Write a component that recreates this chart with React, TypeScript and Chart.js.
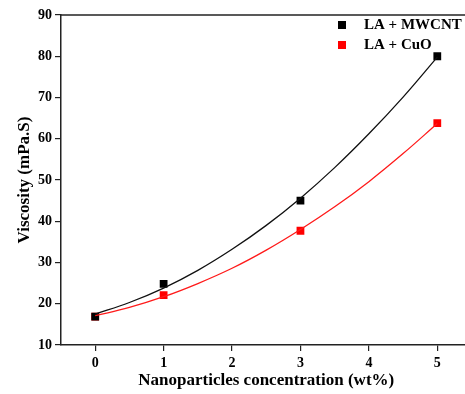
import React, { useEffect, useRef } from "react";
import { Chart, registerables } from "chart.js";

Chart.register(...registerables);

const concentrations = [0, 1, 3, 5];
const mwcntViscosity = [16.9, 24.8, 45.0, 80.0];
const cuoViscosity = [16.9, 22.1, 37.7, 63.8];

const fitX = [0, 0.5, 1, 1.5, 2, 2.5, 3, 3.5, 4, 4.5, 5];
const mwcntFit = [17.5, 20.3, 23.8, 28.1, 33.2, 39.0, 45.6, 53.0, 61.2, 70.1, 79.8];
const cuoFit = [17.1, 19.1, 21.7, 24.9, 28.6, 33.0, 38.0, 43.5, 49.6, 56.4, 63.7];

const yTicks = [10, 20, 30, 40, 50, 60, 70, 80, 90];
const xTicks = [0, 1, 2, 3, 4, 5];

const legendItems = [
  { label: "LA + MWCNT", color: "#000000" },
  { label: "LA + CuO", color: "#ff0000" },
];

const FONT = "'Liberation Serif', 'Times New Roman', serif";

export default function App() {
  const ref = useRef<HTMLCanvasElement | null>(null);
  useEffect(() => {
    if (!ref.current) return;
    const pts = (xs: number[], ys: number[]) => xs.map((x, i) => ({ x, y: ys[i] }));
    const extras = {
      id: "extras",
      afterDraw(chart: any) {
        const { ctx, chartArea } = chart;
        ctx.save();
        ctx.strokeStyle = "#222";
        ctx.lineWidth = 1.5;
        ctx.beginPath();
        ctx.moveTo(chartArea.left - 0.75, chartArea.top);
        ctx.lineTo(chart.width, chartArea.top);
        ctx.stroke();
        ctx.font = `bold 15px ${FONT}`;
        ctx.textBaseline = "middle";
        ctx.textAlign = "left";
        legendItems.forEach((it, i) => {
          const y = 25 + i * 20;
          ctx.fillStyle = it.color;
          ctx.fillRect(338, y - 4, 8, 8);
          ctx.fillStyle = "#000";
          ctx.fillText(it.label, 364, y + 0.5);
        });
        ctx.restore();
      },
    };
    const chart = new Chart(ref.current, {
      type: "scatter",
      data: {
        datasets: [
          {
            type: "line",
            label: "MWCNT fit",
            data: pts(fitX, mwcntFit),
            borderColor: "#111",
            borderWidth: 1.3,
            pointRadius: 0,
            tension: 0.4,
            fill: false,
          },
          {
            type: "line",
            label: "CuO fit",
            data: pts(fitX, cuoFit),
            borderColor: "#ff1a1a",
            borderWidth: 1.3,
            pointRadius: 0,
            tension: 0.4,
            fill: false,
          },
          {
            label: "LA + MWCNT",
            data: pts(concentrations, mwcntViscosity),
            backgroundColor: "#000",
            borderWidth: 0,
            pointStyle: "rect",
            pointRadius: 5.5,
          },
          {
            label: "LA + CuO",
            data: pts(concentrations, cuoViscosity),
            backgroundColor: "#ff0000",
            borderWidth: 0,
            pointStyle: "rect",
            pointRadius: 5.5,
          },
        ],
      },
      options: {
        animation: false,
        responsive: false,
        maintainAspectRatio: false,
        layout: { padding: { left: 14, right: 1, top: 15, bottom: 0 } },
        plugins: { legend: { display: false }, tooltip: { enabled: false } },
        scales: {
          x: {
            type: "linear",
            min: -0.5,
            max: 5.5,
            afterFit: (s: any) => { s.height = 49; },
            afterBuildTicks: (s: any) => { s.ticks = xTicks.map((v) => ({ value: v })); },
            ticks: { color: "#000", font: { family: FONT, size: 14, weight: "bold" }, padding: 4 },
            grid: { drawOnChartArea: false, drawTicks: true, tickLength: 6, color: "#222", lineWidth: 1.2 },
            border: { display: true, color: "#222", width: 1.5 },
            title: { display: true, text: "Nanoparticles concentration (wt%)", color: "#000", font: { family: FONT, size: 17, weight: "bold" }, padding: { top: 0, bottom: 3 } },
          },
          y: {
            type: "linear",
            min: 10,
            max: 90,
            afterFit: (s: any) => { s.width = 47; },
            afterBuildTicks: (s: any) => { s.ticks = yTicks.map((v) => ({ value: v })); },
            ticks: { color: "#000", font: { family: FONT, size: 14, weight: "bold" }, padding: 3 },
            grid: { drawOnChartArea: false, drawTicks: true, tickLength: 6, color: "#222", lineWidth: 1.2 },
            border: { display: true, color: "#222", width: 1.5 },
            title: { display: true, text: "Viscosity (mPa.S)", color: "#000", font: { family: FONT, size: 17, weight: "bold" }, padding: { top: 0, bottom: 0 } },
          },
        },
      },
      plugins: [extras],
    });
    return () => chart.destroy();
  }, []);
  return (
    <div style={{ position: "fixed", left: 0, top: 0, width: 465, height: 394, overflow: "hidden", background: "#fff" }}>
      <canvas ref={ref} width={477} height={394} style={{ display: "block", width: 477, height: 394 }} />
    </div>
  );
}
